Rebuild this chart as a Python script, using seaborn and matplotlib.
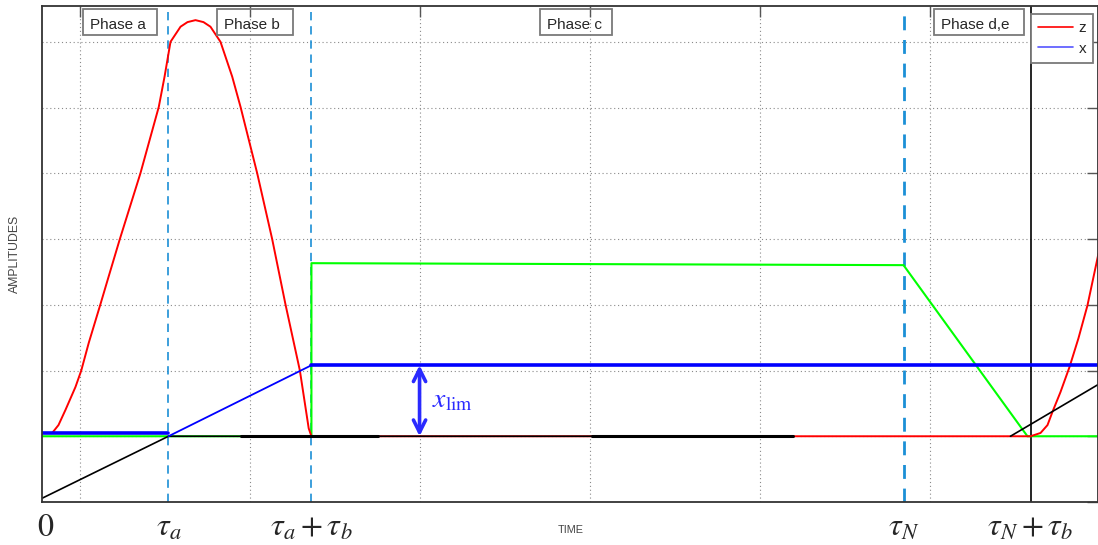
import numpy as np
import pandas as pd
import matplotlib
matplotlib.use("Agg")
import matplotlib.pyplot as plt
from matplotlib.lines import Line2D
from matplotlib.patches import Rectangle
import seaborn as sns

# ---- data ---------------------------------------------------------------
# z : tip response (phase a/b hump, rest at zero, restart after tau_N + tau_b)
t_z = [0.057, 0.094, 0.135, 0.194, 0.228, 0.272, 0.341, 0.388, 0.455, 0.576,
       0.684, 0.718, 0.753, 0.812, 0.853, 0.900, 0.947, 0.988, 1.047, 1.116,
       1.165, 1.263, 1.351, 1.429, 1.514, 1.566, 1.582, 5.812, 5.871, 5.912,
       5.941, 5.988, 6.041, 6.094, 6.147, 6.212]
z = [0.05, 0.17, 0.40, 0.75, 1.00, 1.42, 2.01, 2.42, 3.00, 4.00,
     5.01, 5.47, 6.00, 6.23, 6.30, 6.33, 6.30, 6.23, 6.00, 5.47,
     5.01, 4.00, 3.00, 2.01, 1.00, 0.12, 0.00, 0.00, 0.05, 0.17,
     0.37, 0.67, 1.05, 1.49, 1.99, 2.78]

# x : displacement, held, ramped to the limit, then held at x_lim
x_lim = 1.08
t_x_hold = [0.0, 0.741]
x_hold = [0.046, 0.046]
t_x_ramp = [0.741, 1.582]
x_ramp = [0.0, x_lim]
t_x_top = [1.582, 6.212]
x_top = [x_lim, x_lim]

# green command signal
t_g = [0.0, 1.582, 1.582, 5.065, 5.794, 6.212]
g = [0.0, 0.0, 2.633, 2.603, 0.0, 0.0]

# black reference signal
t_k = [0.0, 0.741, 4.412]
k = [-0.94, 0.0, 0.0]
t_k_end = [5.694, 6.212]
k_end = [0.0, 0.79]
k_thick_segments = [(1.165, 1.976), (3.235, 4.412)]

# phase boundaries and their labels
tau_dashed = [0.741, 1.582, 5.065]
tau_dashed_lw = [1.2, 1.2, 2.0]
tau_solid = 5.812
label_pos = [0.018, 0.741, 1.582, 5.065, 5.812]
label_txt = [r"$0$", r"$\tau_a$", r"$\tau_a+\tau_b$", r"$\tau_N$", r"$\tau_N+\tau_b$"]

phase_txt = ["Phase a", "Phase b", "Phase c", "Phase d,e"]
phase_left = [0.241, 1.029, 2.929, 5.247]
phase_right = [0.676, 1.476, 3.353, 5.771]

arrow_t = 2.218

# ---- style --------------------------------------------------------------
sns.set_style("white")
plt.rcParams["font.family"] = ["Liberation Sans", "DejaVu Sans"]
plt.rcParams["mathtext.fontset"] = "stix"

W, H = 1098, 545
fig = plt.figure(figsize=(W / 100, H / 100), dpi=100)
ax = fig.add_axes([42.5 / W, 43 / H, 1056 / W, 496 / H])

RED, BLUE, GREEN = "#ff0000", "#0000ff", "#00ff00"
DASH = "#1b8fd6"

def line(tx, vy, **kw):
    df = pd.DataFrame({"t": tx, "v": vy})
    sns.lineplot(data=df, x="t", y="v", ax=ax, sort=False, estimator=None,
                 legend=False, **kw)

# grid and frame
ax.set_xlim(0, 6.212)
ax.set_ylim(-1, 6.545)
ax.set_xticks([0.218 + i for i in range(6)])
ax.set_yticks(list(range(-1, 7)))
ax.grid(True, color="#8a8a8a", linestyle=(0, (1, 2.5)), linewidth=0.8)
ax.set_axisbelow(True)
ax.tick_params(direction="in", length=8, width=1, color="#555555",
               top=True, right=True, labelbottom=False, labelleft=False)
for s in ax.spines.values():
    s.set_color("#333333")
    s.set_linewidth(1.3)
ax.set_xlabel("")
ax.set_ylabel("")

# signals
line(t_g, g, color=GREEN, linewidth=1.5)
line(t_z, z, color=RED, linewidth=1.4)
line(t_k, k, color="black", linewidth=1.2)
for a, b in k_thick_segments:
    line([a, b], [0, 0], color="black", linewidth=2.2)
line(t_k_end, k_end, color="black", linewidth=1.2)
line(t_x_hold, x_hold, color=BLUE, linewidth=2.6)
line(t_x_ramp, x_ramp, color=BLUE, linewidth=1.3)
line(t_x_top, x_top, color=BLUE, linewidth=2.6)

# phase boundaries
for tt, lw in zip(tau_dashed, tau_dashed_lw):
    ax.axvline(tt, color=DASH, linestyle=(0, (5, 3.5)), linewidth=lw, zorder=1.5)
ax.axvline(tau_solid, color="black", linewidth=1.2, zorder=1.5)

# x_lim marker
ax.annotate("", xy=(arrow_t, 0.0), xytext=(arrow_t, x_lim),
            arrowprops=dict(arrowstyle="<->", color="#2a2aff", lw=2.6,
                            mutation_scale=22, shrinkA=0, shrinkB=0))
ax.text(arrow_t + 0.075, 0.55, r"$x_{\mathrm{lim}}$", color="#2a2aff",
        fontsize=20, va="center", ha="left")

# phase captions in open boxes
xtrans = ax.get_xaxis_transform()
for x0, x1, txt in zip(phase_left, phase_right, phase_txt):
    ax.add_patch(Rectangle((x0, 0.9415), x1 - x0, 0.0525, transform=xtrans,
                           facecolor="none", edgecolor="#7a7a7a",
                           linewidth=1.3, zorder=2.5))
    ax.text(x0 + 0.036, 0.953, txt, transform=xtrans, fontsize=11,
            ha="left", va="baseline", zorder=2.6)

# boundary labels below the axis
for px, txt in zip(label_pos, label_txt):
    ax.text(px, -0.052, txt, transform=xtrans, fontsize=23,
            ha="center", va="center")

ax.text(0.5, -0.057, "TIME", transform=ax.transAxes, fontsize=7.8,
        color="#444444", ha="center", va="center")
ax.text(-0.026, 0.5, "AMPLITUDES", transform=ax.transAxes, fontsize=8.8,
        color="#444444", ha="center", va="center", rotation=90)

handles = [Line2D([], [], color=RED, linewidth=1.2),
           Line2D([], [], color="#5555ff", linewidth=1.2)]
leg = ax.legend(handles, ["z", "x"], loc="upper right",
                bbox_to_anchor=(0.9948, 0.9839), borderaxespad=0,
                fontsize=11, frameon=True, fancybox=False, framealpha=1,
                edgecolor="#7a7a7a", handlelength=2.3, handletextpad=0.35,
                borderpad=0.45, labelspacing=0.45)
leg.get_frame().set_linewidth(1.3)

fig.savefig("out.png", dpi=100)
